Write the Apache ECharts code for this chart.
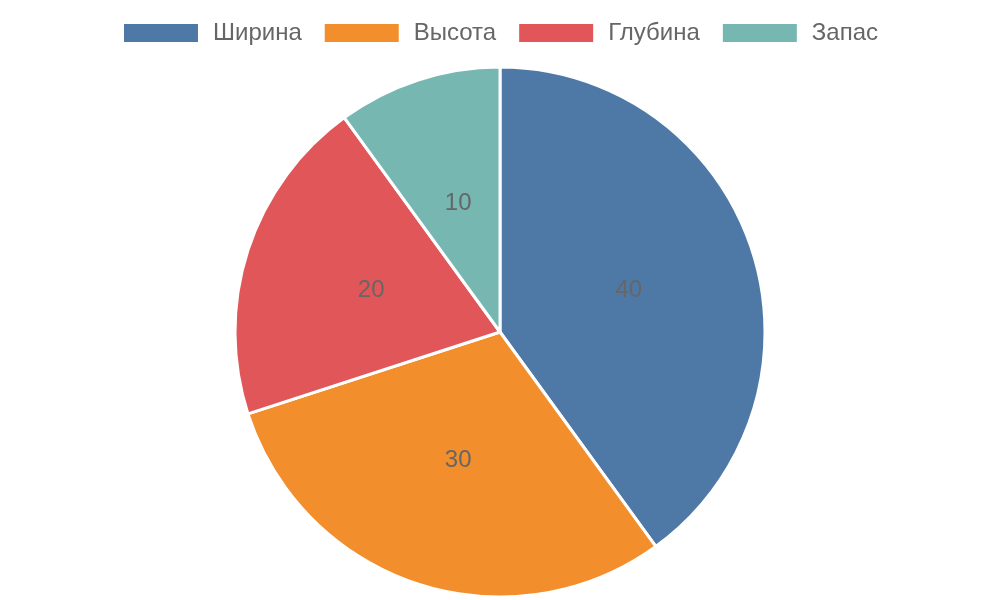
<!DOCTYPE html>
<html>
<head>
<meta charset="utf-8">
<script src="https://cdn.jsdelivr.net/npm/echarts@6/dist/echarts.min.js"></script>
<style>
  html, body { margin: 0; padding: 0; background: #fff; }
  #chart { width: 1000px; height: 600px; }
</style>
</head>
<body>
<div id="chart"></div>
<script>
  // данные
  var categories = ['Ширина', 'Высота', 'Глубина', 'Запас'];
  var values = [40, 30, 20, 10];
  var colors = ['#4e79a7', '#f28e2b', '#e15759', '#76b7b2'];

  var chart = echarts.init(document.getElementById('chart'));

  var option = {
    color: colors,
    textStyle: { fontFamily: 'Liberation Sans, Arial, sans-serif' },
    legend: {
      top: 16,
      left: 'center',
      icon: 'rect',
      itemWidth: 76,
      itemHeight: 20,
      itemGap: 21,
      textStyle: {
        fontSize: 24,
        color: '#666',
        padding: [0, 0, 0, 9]
      },
      data: categories
    },
    series: [
      {
        type: 'pie',
        center: [500, 332],
        radius: 265,
        startAngle: 90,
        clockwise: true,
        itemStyle: {
          borderColor: '#fff',
          borderWidth: 3
        },
        label: {
          show: true,
          position: 'inside',
          formatter: '{c}',
          fontSize: 24,
          color: '#666'
        },
        labelLine: { show: false },
        emphasis: { disabled: true },
        data: categories.map(function (name, i) {
          return { name: name, value: values[i] };
        })
      }
    ]
  };

  chart.setOption(option);
</script>
</body>
</html>
